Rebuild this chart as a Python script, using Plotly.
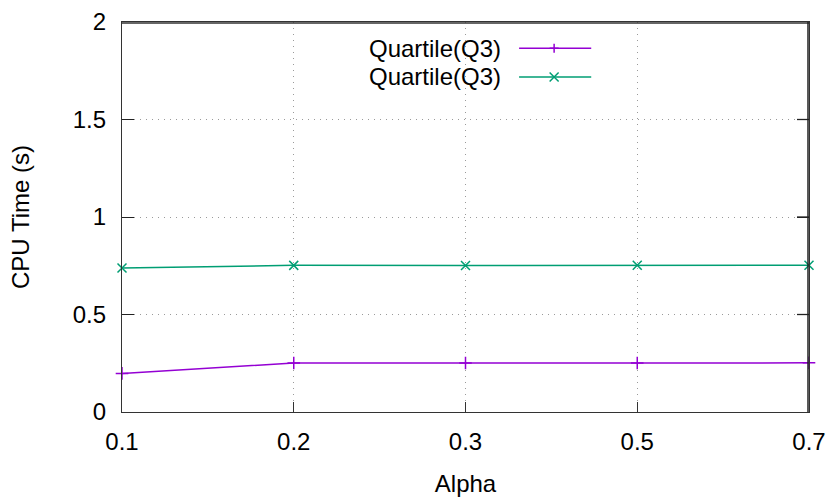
import plotly.graph_objects as go

alpha_labels = ["0.1", "0.2", "0.3", "0.5", "0.7"]
series1_name = "Quartile(Q3)"
series1_values = [0.198, 0.251, 0.251, 0.251, 0.252]
series2_name = "Quartile(Q3)"
series2_values = [0.738, 0.752, 0.751, 0.753, 0.753]
y_ticks = [0, 0.5, 1, 1.5, 2]
y_tick_labels = ["0", "0.5", "1", "1.5", "2"]

PURPLE = "#9400D3"
GREEN = "#009E73"
FONT = "Liberation Sans, Arial, sans-serif"
FS = 24

W, H = 828, 497
ML, MR, MT, MB = 122, 19, 22, 85
PW, PH = W - ML - MR, H - MT - MB

fig = go.Figure()
fig.add_trace(go.Scatter(
    x=list(range(len(alpha_labels))), y=series1_values, name=series1_name,
    mode="lines+markers", line=dict(color=PURPLE, width=1.5),
    marker=dict(symbol="cross-thin", size=9, line=dict(color=PURPLE, width=1.5)),
    showlegend=False, cliponaxis=False))
fig.add_trace(go.Scatter(
    x=list(range(len(alpha_labels))), y=series2_values, name=series2_name,
    mode="lines+markers", line=dict(color=GREEN, width=1.5),
    marker=dict(symbol="x-thin", size=9, line=dict(color=GREEN, width=1.5)),
    showlegend=False, cliponaxis=False))

# opaque key box hides the grid
fig.add_shape(type="rect", xref="paper", yref="paper", x0=0.303, x1=0.702,
              y0=0.736, y1=1.0, fillcolor="white", line=dict(width=0),
              layer="between")

# top and right border lines (gnuplot full box), nudged inside the plot area
fig.add_shape(type="line", xref="paper", yref="paper", x0=0, x1=1,
              y0=1 - 1 / PH, y1=1 - 1 / PH, line=dict(color="#333", width=1.5),
              layer="above")
fig.add_shape(type="line", xref="paper", yref="paper", x0=1 - 1 / PW,
              x1=1 - 1 / PW, y0=0, y1=1, line=dict(color="#222", width=1.5),
              layer="above")

# right-side mirrored y ticks
for yt in y_ticks[1:-1]:
    fig.add_shape(type="line", xref="paper", yref="y", x0=1 - 12 / PW, x1=1,
                  y0=yt, y1=yt, line=dict(color="#222", width=1.3))

# custom gnuplot-style key: text left, sample right
key_x0, key_x1, key_xm, key_text_x = 0.578, 0.683, 0.629, 0.5546
key_rows = [0.933, 0.859]
dx, dy = 4.5 / PW, 4.5 / PH
for name, color, kind, ky in [(series1_name, PURPLE, "plus", key_rows[0]),
                              (series2_name, GREEN, "x", key_rows[1])]:
    fig.add_annotation(xref="paper", yref="paper", x=key_text_x, y=ky,
                       text=name, showarrow=False, xanchor="right",
                       yanchor="middle",
                       font=dict(family=FONT, size=FS, color="black"))
    fig.add_shape(type="line", xref="paper", yref="paper", x0=key_x0,
                  x1=key_x1, y0=ky, y1=ky, line=dict(color=color, width=1.5))
    if kind == "plus":
        path = (f"M{key_xm},{ky - dy} L{key_xm},{ky + dy} "
                f"M{key_xm - dx},{ky} L{key_xm + dx},{ky}")
    else:
        path = (f"M{key_xm - dx},{ky - dy} L{key_xm + dx},{ky + dy} "
                f"M{key_xm - dx},{ky + dy} L{key_xm + dx},{ky - dy}")
    fig.add_shape(type="path", xref="paper", yref="paper", path=path,
                  line=dict(color=color, width=1.5))

GRID = dict(showgrid=True, gridcolor="#9a9a9a", griddash="1px,5px", gridwidth=1)

fig.update_layout(
    width=W, height=H,
    margin=dict(l=ML, r=MR, t=MT, b=MB, autoexpand=False),
    plot_bgcolor="white", paper_bgcolor="white",
    font=dict(family=FONT, size=FS, color="black"),
    xaxis=dict(
        tickmode="array", tickvals=list(range(len(alpha_labels))),
        ticktext=alpha_labels, range=[0, len(alpha_labels) - 1], **GRID,
        showline=True, linecolor="#333", linewidth=1.3, mirror=True,
        ticks="inside", ticklen=10, tickcolor="#333", tickwidth=1,
        zeroline=False, ticklabelstandoff=8, automargin=False,
        title=dict(text="Alpha", standoff=24, font=dict(size=FS))),
    yaxis=dict(
        tickmode="array", tickvals=y_ticks, ticktext=y_tick_labels,
        range=[0, 2], **GRID, showline=True, linecolor="#333", linewidth=1.3,
        mirror="ticks", ticks="inside", ticklen=12, tickcolor="#222",
        tickwidth=1.3, zeroline=False, ticklabelstandoff=10, automargin=False,
        title=dict(text="CPU Time (s)", standoff=36, font=dict(size=FS))),
)

fig.write_html(
    "out.html",
    config={"displayModeBar": False},
    post_script="document.body.style.margin='0';document.body.style.overflow='hidden';",
)
